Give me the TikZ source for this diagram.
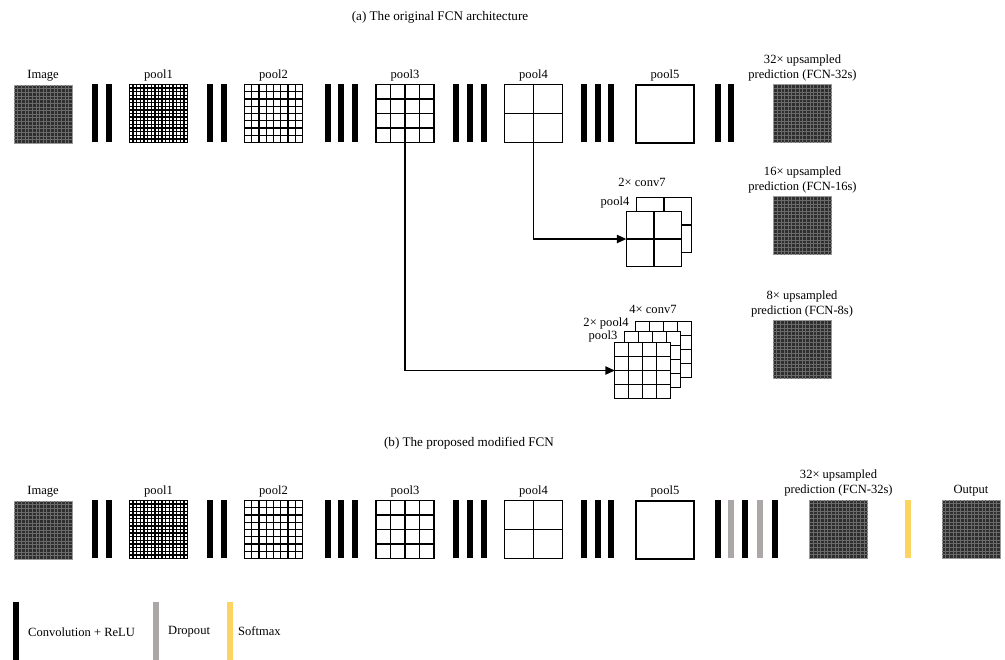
\documentclass[tikz,border=0pt]{standalone}
\usepackage{fontspec}
\setmainfont{Liberation Serif}
\usetikzlibrary{arrows.meta, positioning, calc}
\definecolor{dropc}{HTML}{ABA7A6}
\definecolor{softc}{HTML}{FCD462}
\definecolor{texc}{HTML}{2E2E2E}
\tikzset{
  mapbox/.style={draw, line width=1.1pt, fill=white, inner sep=0pt,
                 outer sep=0pt, minimum size=1.74cm},
  stackbox/.style={mapbox, minimum size=1.66cm},
  gridline/.style={line width=1.1pt},
  texbox/.style={draw=black!40, line width=0.6pt, fill=texc, inner sep=0pt,
                 outer sep=0pt, minimum size=1.74cm},
  convbar/.style={fill=black, inner sep=0pt, minimum width=0.18cm,
                  minimum height=1.74cm},
  dropbar/.style={convbar, fill=dropc},
  softbar/.style={convbar, fill=softc},
  lbl/.style={inner sep=0pt, align=center},
}
% feature map with an n x n grid
\newcommand{\gridmap}[4]{%
  \node[#4] (#1) at #2 {};
  \pgfmathtruncatemacro{\lastk}{#3-1}
  \foreach \k in {1,...,\lastk}{
    \draw[gridline] ($(#1.north west)!\k/#3!(#1.north east)$)
                 -- ($(#1.south west)!\k/#3!(#1.south east)$);
    \draw[gridline] ($(#1.north west)!\k/#3!(#1.south west)$)
                 -- ($(#1.north east)!\k/#3!(#1.south east)$);
  }
}
% full-size map (image / prediction)
\newcommand{\texmap}[2]{%
  \node[texbox] (#1) at #2 {};
  \foreach \k in {1,...,15}{
    \draw[black!58, line width=0.4pt]
      ($(#1.north west)!\k/16!(#1.north east)$)
      -- ($(#1.south west)!\k/16!(#1.south east)$);
    \draw[black!58, line width=0.4pt]
      ($(#1.north west)!\k/16!(#1.south west)$)
      -- ($(#1.north east)!\k/16!(#1.south east)$);
  }
}

\begin{document}
\begin{tikzpicture}[x=0.03cm, y=-0.03cm, >={Triangle[length=8pt, width=7pt]},
    font=\fontsize{10.7}{12.8}\selectfont]
  \useasboundingbox (0,0) rectangle (1005,659);

  % (a) original FCN
  \node[font=\fontsize{11.2}{13}\selectfont] (ta) at (440,17)
    {(a) The original FCN architecture};
  \texmap{ia}{(43,114)}
  \gridmap{p1a}{(158.5,113.5)}{16}{mapbox}
  \gridmap{p2a}{(273.5,113.5)}{8}{mapbox}
  \gridmap{p3a}{(405,113.5)}{4}{mapbox}
  \gridmap{p4a}{(533.5,113.5)}{2}{mapbox}
  \node[mapbox] (p5a) at (665,114) {};
  \texmap{f32a}{(802.5,113.5)}
  \foreach \x [count=\i] in {95,108.5,210,224,328,341,354.5,456,470,484,
                             584,597.5,611,718,731}
    \node[convbar] (ca\i) at (\x,113) {};

  \node[lbl, above=0.1cm of ia] (lia) {Image};
  \node[lbl, above=0.1cm of p1a] (lp1a) {pool1};
  \node[lbl, above=0.1cm of p2a] (lp2a) {pool2};
  \node[lbl, above=0.1cm of p3a] (lp3a) {pool3};
  \node[lbl, above=0.1cm of p4a] (lp4a) {pool4};
  \node[lbl, above=0.1cm of p5a] (lp5a) {pool5};
  \node[lbl, above=0.1cm of f32a] (lf32a) {32× upsampled\\prediction (FCN-32s)};

  % FCN-16s
  \gridmap{s16a}{(664,225)}{2}{stackbox}
  \gridmap{s16b}{(654,239)}{2}{stackbox}
  \node[lbl] (l16c) at (642,182) {2× conv7};
  \node[lbl] (l16p) at (615,202) {pool4};
  \texmap{f16}{(802.5,225.5)}
  \node[lbl, above=0.1cm of f16] (lf16) {16× upsampled\\prediction (FCN-16s)};
  \draw[->, line width=1pt] (p4a) |- (s16b.west);

  % FCN-8s
  \gridmap{s8a}{(663.5,349.5)}{4}{stackbox}
  \gridmap{s8b}{(652.5,359.5)}{4}{stackbox}
  \gridmap{s8c}{(642.5,370.5)}{4}{stackbox}
  \node[lbl] (l8c) at (653,309) {4× conv7};
  \node[lbl] (l8p) at (606,323) {2× pool4};
  \node[lbl] (l8q) at (603,336) {pool3};
  \texmap{f8}{(802,349.5)}
  \node[lbl, above=0.1cm of f8] (lf8) {8× upsampled\\prediction (FCN-8s)};
  \draw[->, line width=1pt] (p3a) |- (s8c.west);

  % (b) modified FCN
  \node[font=\fontsize{11.2}{13}\selectfont] (tb) at (469,443)
    {(b) The proposed modified FCN};
  \texmap{ib}{(43,530)}
  \gridmap{p1b}{(158.5,529.5)}{16}{mapbox}
  \gridmap{p2b}{(273.5,529.5)}{8}{mapbox}
  \gridmap{p3b}{(405,529.5)}{4}{mapbox}
  \gridmap{p4b}{(533.5,529.5)}{2}{mapbox}
  \node[mapbox] (p5b) at (665,530) {};
  \texmap{f32b}{(838.5,529)}
  \texmap{outb}{(971,529)}
  \foreach \x [count=\i] in {95,108.5,210,224,328,341,354.5,456,470,484,
                             584,597.5,611}
    \node[convbar] (cb\i) at (\x,529) {};
  \foreach \x/\s [count=\i] in {718/convbar,730.5/dropbar,744.5/convbar,
                                760/dropbar,774.5/convbar}
    \node[\s] (hb\i) at (\x,529) {};
  \node[softbar] (smb) at (908,529) {};

  \node[lbl, above=0.1cm of ib] (lib) {Image};
  \node[lbl, above=0.1cm of p1b] (lp1b) {pool1};
  \node[lbl, above=0.1cm of p2b] (lp2b) {pool2};
  \node[lbl, above=0.1cm of p3b] (lp3b) {pool3};
  \node[lbl, above=0.1cm of p4b] (lp4b) {pool4};
  \node[lbl, above=0.1cm of p5b] (lp5b) {pool5};
  \node[lbl, above=0.1cm of f32b] (lf32b) {32× upsampled\\prediction (FCN-32s)};
  \node[lbl, above=0.1cm of outb] (loutb) {Output};

  % legend
  \node[convbar] (kconv) at (16,631) {};
  \node[dropbar] (kdrop) at (156,631) {};
  \node[softbar] (ksoft) at (229.5,631) {};
  \node[lbl, anchor=west] (tconv) at (28,632) {Convolution + ReLU};
  \node[lbl, anchor=west] (tdrop) at (168,632) {Dropout};
  \node[lbl, anchor=west] (tsoft) at (238,631) {Softmax};
\end{tikzpicture}
\end{document}
